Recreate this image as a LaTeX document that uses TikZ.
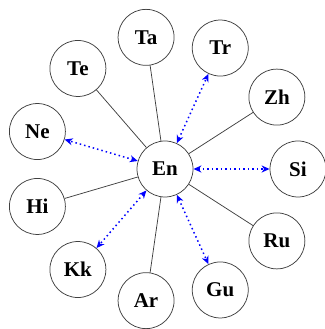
\documentclass[tikz,border=0pt]{standalone}
\usepackage{fontspec}
\setmainfont{Liberation Serif}
\usetikzlibrary{arrows.meta}
\tikzset{
  lang/.style={circle, draw=black!75, line width=0.75pt, minimum size=56pt, inner sep=0pt, font=\fontsize{21}{24}\selectfont\bfseries},
  plain/.style={draw=black!75, line width=0.75pt},
  dotarrow/.style={draw=blue, line width=1.5pt, dash pattern=on 1.5pt off 3pt, {Stealth[length=8pt,width=7pt,inset=2.5pt]}-{Stealth[length=8pt,width=7pt,inset=2.5pt]}}
}
\begin{document}
\begin{tikzpicture}[x=1pt,y=1pt]
\useasboundingbox (0,0) rectangle (324,329);
\node[lang] (En) at (165,160) {En};
\foreach \nm [count=\i from 0] in {Si,Zh,Tr,Ta,Te,Ne,Hi,Kk,Ar,Gu,Ru}{
  \node[lang] (\nm) at ({165+133*cos(\i*360/11)},{160+133*sin(\i*360/11)}) {\nm};
}
\draw[plain] (En) -- (Zh);
\draw[plain] (En) -- (Ta);
\draw[plain] (En) -- (Te);
\draw[plain] (En) -- (Hi);
\draw[plain] (En) -- (Ar);
\draw[plain] (En) -- (Ru);
\draw[dotarrow] (En) -- (Si);
\draw[dotarrow] (En) -- (Tr);
\draw[dotarrow] (En) -- (Ne);
\draw[dotarrow] (En) -- (Kk);
\draw[dotarrow] (En) -- (Gu);
\end{tikzpicture}
\end{document}
